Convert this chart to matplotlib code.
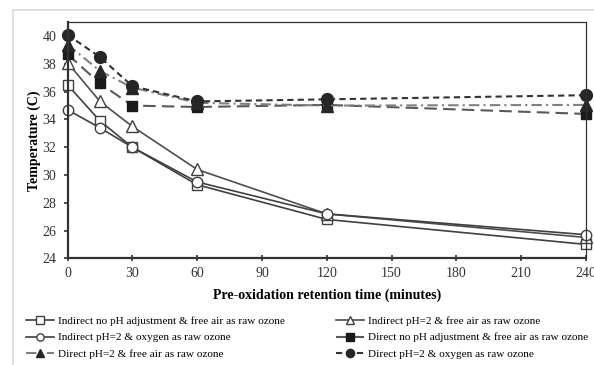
import numpy as np
import matplotlib.pyplot as plt
from matplotlib.patches import Rectangle

#%% data
time_min = [0, 15, 30, 60, 120, 240]  # pre-oxidation retention time (minutes)

ind_no_ph_air = [36.5, 33.9, 32.0, 29.3, 26.8, 25.0]
ind_ph2_air = [38.1, 35.3, 33.5, 30.4, 27.2, 25.5]
ind_ph2_oxy = [34.7, 33.4, 32.0, 29.5, 27.2, 25.7]
dir_no_ph_air = [38.7, 36.6, 35.0, 34.9, 35.05, 34.4]
dir_ph2_air = [39.4, 37.5, 36.3, 35.2, 35.0, 35.05]
dir_ph2_oxy = [40.1, 38.5, 36.4, 35.3, 35.45, 35.75]

series_labels = ["Indirect no pH adjustment & free air as raw ozone",
                 "Indirect pH=2 & free air as raw ozone",
                 "Indirect pH=2 & oxygen as raw ozone",
                 "Direct no pH adjustment & free air as raw ozone",
                 "Direct pH=2 & free air as raw ozone",
                 "Direct pH=2 & oxygen as raw ozone"]

x_ticks = np.arange(0, 241, 30)
y_ticks = np.arange(24, 41, 2)

#%% plotting
plt.rcParams['font.family'] = ['Liberation Serif', 'DejaVu Serif']

fig = plt.figure(figsize=(5.94, 3.65), dpi=100)
# light grey chart-area border (cut off on right/bottom like the screenshot)
fig.patches.append(Rectangle((13/594, -0.1), 1.0, 1 - 10/365 + 0.1, transform=fig.transFigure,
                             fill=False, edgecolor='#d9d9d9', linewidth=1.2))
ax = fig.add_axes([67.5/594, 1 - 258.3/365, (586 - 67.5)/594, (258.3 - 22.3)/365])

lw = 1.2
ms = 7.5
ax.plot(time_min, ind_no_ph_air, '-', color='#404040', lw=lw, marker='s', ms=ms,
        mfc='white', mec='#404040', mew=1.0, label=series_labels[0], clip_on=False)
ax.plot(time_min, ind_ph2_air, '-', color='#4d4d4d', lw=lw, marker='^', ms=ms + 1,
        mfc='white', mec='#404040', mew=1.0, label=series_labels[1], clip_on=False)
ax.plot(time_min, ind_ph2_oxy, '-', color='#404040', lw=lw, marker='o', ms=ms,
        mfc='white', mec='#404040', mew=1.0, label=series_labels[2], clip_on=False)
ax.plot(time_min, dir_no_ph_air, color='#595959', lw=1.5, ls=(0, (6, 3)), marker='s', ms=ms,
        mfc='#1a1a1a', mec='#1a1a1a', label=series_labels[3], clip_on=False)
ax.plot(time_min, dir_ph2_air, color='#808080', lw=1.5, ls=(0, (5, 2, 1, 2)), marker='^', ms=ms + 1,
        mfc='#262626', mec='#262626', label=series_labels[4], clip_on=False)
ax.plot(time_min, dir_ph2_oxy, color='#333333', lw=1.5, ls=(0, (3, 2)), marker='o', ms=ms + 1,
        mfc='#262626', mec='#262626', label=series_labels[5], clip_on=False)

ax.set_xlim(0, 240)
ax.set_ylim(24, 41)
ax.set_xticks(x_ticks)
ax.set_yticks(y_ticks)
ax.tick_params(axis='x', direction='inout', length=5, width=1.2, labelsize=10, pad=4, colors='#333333')
ax.tick_params(axis='y', direction='out', length=3, width=1.2, labelsize=10, pad=5, colors='#333333')
for s in ['left', 'bottom']:
    ax.spines[s].set_linewidth(1.6)
    ax.spines[s].set_color('#333333')
for s in ['top', 'right']:
    ax.spines[s].set_linewidth(0.9)
    ax.spines[s].set_color('#333333')

ax.set_xlabel("Pre-oxidation retention time (minutes)", fontsize=10, fontweight='bold', labelpad=6)
ax.set_ylabel("Temperature (C)", fontsize=10, fontweight='bold', labelpad=1)

# legend, two columns filled row-wise like the original
h, l = ax.get_legend_handles_labels()
order = [0, 2, 4, 1, 3, 5]
fig.legend([h[i] for i in order], [l[i] for i in order], loc='upper left',
           bbox_to_anchor=(26/594, 1 - 316/365), ncol=2, frameon=False, fontsize=8.1,
           handlelength=2.5, handletextpad=0.3, columnspacing=4.6, labelspacing=0.6,
           borderaxespad=0, borderpad=0, markerscale=0.7)

fig.savefig("out.png", dpi=100)
